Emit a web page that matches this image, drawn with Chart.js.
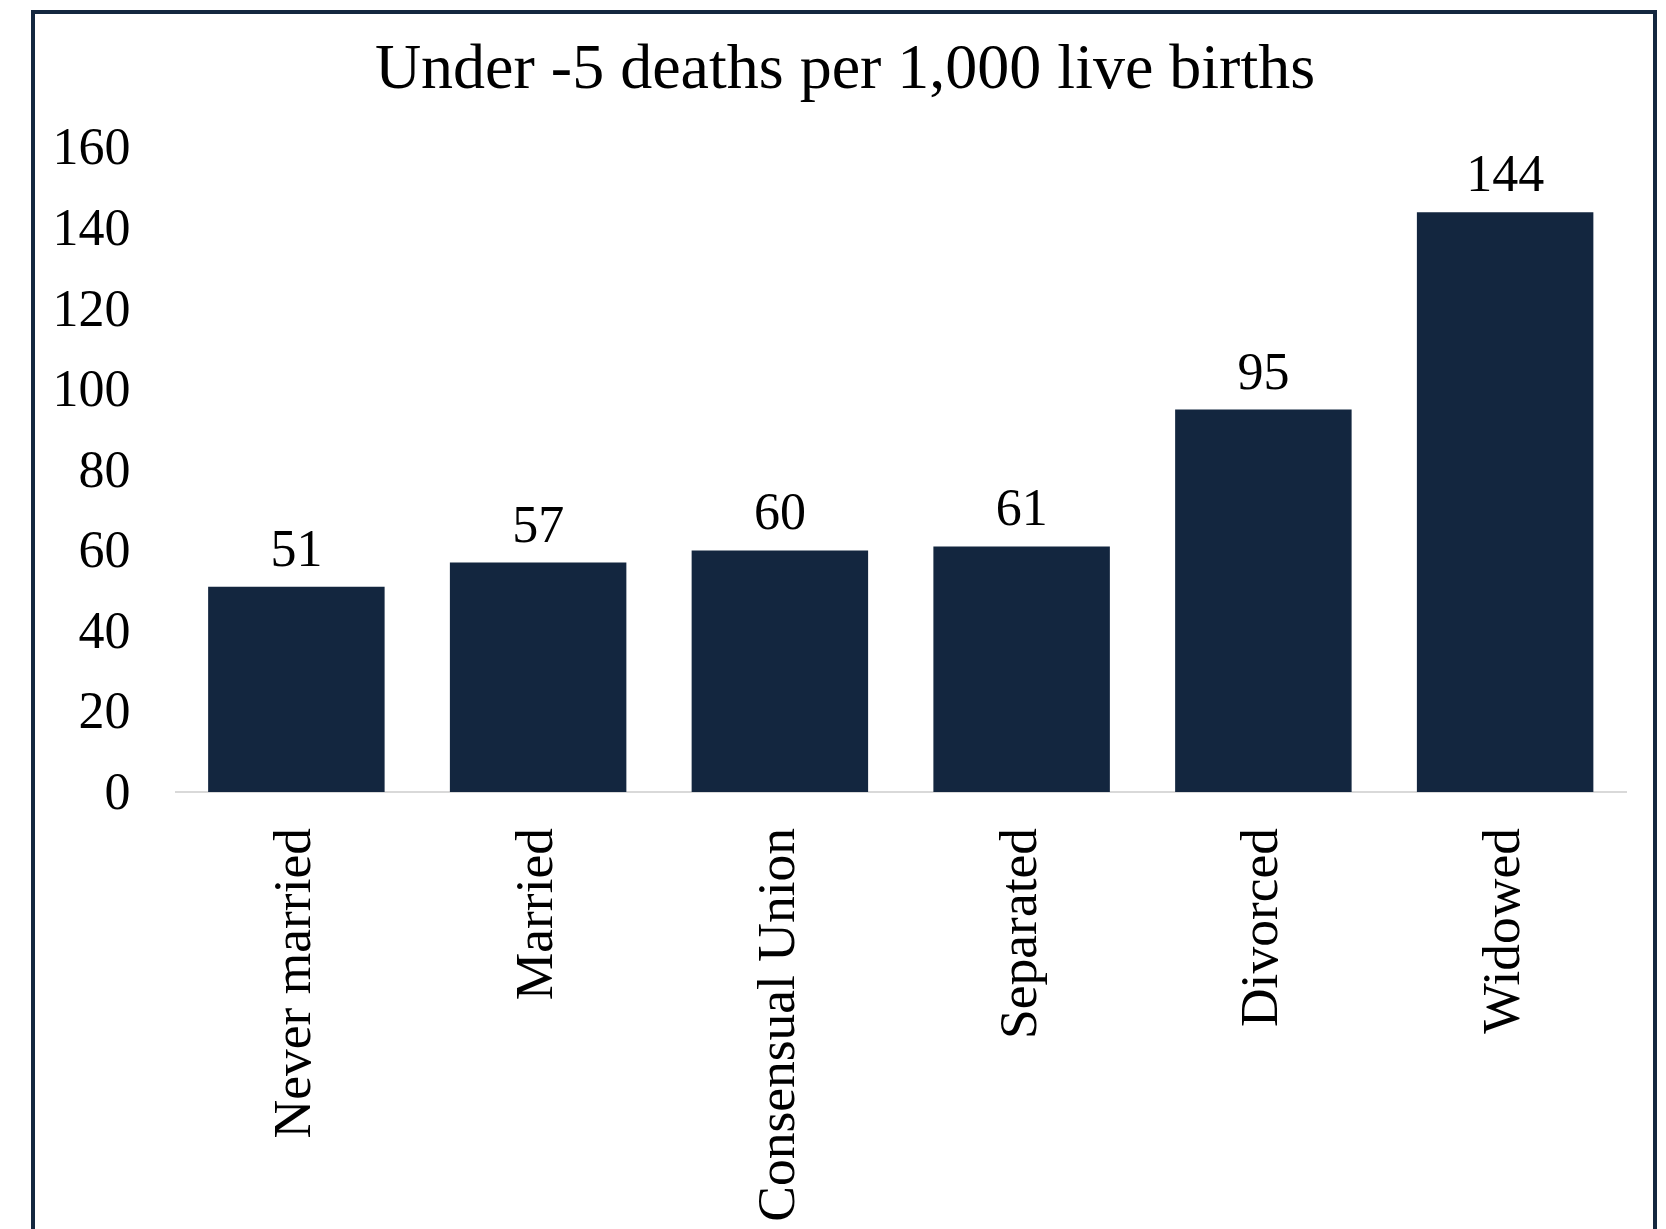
<!DOCTYPE html>
<html>
<head>
<meta charset="utf-8">
<script src="https://cdn.jsdelivr.net/npm/chart.js@4.4.1/dist/chart.umd.min.js"></script>
<style>
    html, body { margin: 0; padding: 0; background: #ffffff; overflow: hidden; }
    #wrap { position: relative; width: 1666px; height: 1229px; }
    #frame {
        position: absolute; left: 31px; top: 10px;
        width: 1618px; height: 1300px;
        border: 4px solid #14273f;
        pointer-events: none;
    }
</style>
</head>
<body>
<div id="wrap">
    <canvas id="mortalityChart" width="1666" height="1229"></canvas>
    <div id="frame"></div>
</div>
<script>
// Data
const CATEGORIES = ['Never married', 'Married', 'Consensual Union', 'Separated', 'Divorced', 'Widowed'];
const DEATHS_PER_1000 = [51, 57, 60, 61, 95, 144];
const Y_TICKS = [0, 20, 40, 60, 80, 100, 120, 140, 160];
const TITLE = 'Under -5 deaths per 1,000 live births';

const BAR_COLOR = '#13263f';
const FONT = '"Liberation Serif", "Times New Roman", serif';

// Value labels above each bar
const valueLabels = {
    id: 'valueLabels',
    afterDatasetsDraw(chart) {
        const ctx = chart.ctx;
        const meta = chart.getDatasetMeta(0);
        ctx.save();
        ctx.font = '52px ' + FONT;
        ctx.fillStyle = '#000000';
        ctx.textAlign = 'center';
        ctx.textBaseline = 'alphabetic';
        meta.data.forEach((bar, i) => {
            ctx.fillText(String(DEATHS_PER_1000[i]), bar.x, bar.y - 21);
        });
        ctx.restore();
    }
};

// y labels stick out past the left padding; widen the axis clip box
const widenYAxis = {
    id: 'widenYAxis',
    afterLayout(chart) {
        chart.scales.y.left = 0;
    }
};

const ctx = document.getElementById('mortalityChart').getContext('2d');

new Chart(ctx, {
    type: 'bar',
    data: {
        labels: CATEGORIES,
        datasets: [{
            data: DEATHS_PER_1000,
            backgroundColor: BAR_COLOR,
            borderWidth: 0,
            categoryPercentage: 1.0,
            barPercentage: 0.73
        }]
    },
    options: {
        responsive: false,
        animation: false,
        devicePixelRatio: 1,
        layout: {
            padding: { top: 8, left: 64, right: 40, bottom: 0 }
        },
        plugins: {
            legend: { display: false },
            tooltip: { enabled: false },
            title: {
                display: true,
                text: TITLE,
                color: '#000000',
                font: { family: FONT, size: 64, weight: 'normal', lineHeight: 1.2 },
                padding: { top: 25, bottom: 38 }
            }
        },
        scales: {
            x: {
                grid: { display: false },
                border: { display: true, color: '#d9d9d9', width: 2 },
                ticks: {
                    color: '#000000',
                    font: { family: FONT, size: 53.5 },
                    minRotation: 90,
                    maxRotation: 90,
                    padding: 28,
                    autoSkip: false
                },
                afterFit(scale) { scale.height = 437; }
            },
            y: {
                min: 0,
                max: 160,
                grid: { display: false },
                border: { display: false },
                afterBuildTicks(scale) {
                    scale.ticks = Y_TICKS.map(v => ({ value: v }));
                },
                ticks: {
                    color: '#000000',
                    font: { family: FONT, size: 52 },
                    padding: 37,
                    labelOffset: 3
                },
                afterFit(scale) { scale.width = 111.5; }
            }
        }
    },
    plugins: [valueLabels, widenYAxis]
});
</script>
</body>
</html>
